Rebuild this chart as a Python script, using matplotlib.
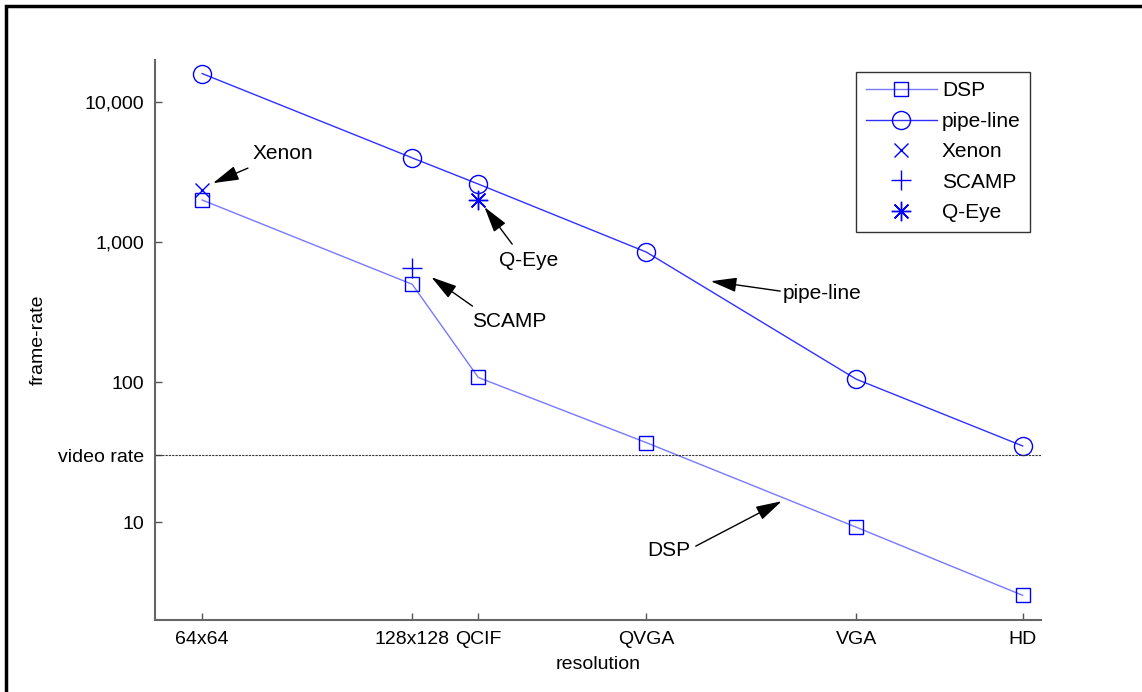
import numpy as np
import matplotlib.pyplot as plt
from matplotlib.patches import Rectangle

plt.rcParams['font.family'] = ['Liberation Sans', 'DejaVu Sans']

# resolutions and their pixel counts (x axis is log of pixel count)
res_labels = ['64x64', '128x128', 'QCIF', 'QVGA', 'VGA', 'HD']
res_pixels = [64 * 64, 128 * 128, 176 * 144, 320 * 240, 640 * 480, 1280 * 720]

# frame rates
pipeline_fps = [16000, 4000, 2600, 850, 105, 35]
dsp_fps = [2000, 500, 108, 37, 9.2, 3.0]
xenon = (64 * 64, 2350)
scamp = (128 * 128, 650)
qeye = (176 * 144, 2000)
video_rate = 30

ytick_vals = [10, video_rate, 100, 1000, 10000]
ytick_labels = ['10', 'video rate', '100', '1,000', '10,000']

fig = plt.figure(figsize=(11.42, 6.92), dpi=100)
ax = fig.add_axes([155 / 1142, 72 / 692, 886 / 1142, 560 / 692])

blue = '#0000ff'
ax.plot(res_pixels, dsp_fps, '-', color='#7878ff', lw=1.0, marker='s', ms=9.5,
        mfc='none', mec=blue, mew=1.0, label='DSP')
ax.plot(res_pixels, pipeline_fps, '-', color='#3030ff', lw=1.0, marker='o', ms=13,
        mfc='none', mec=blue, mew=1.0, label='pipe-line')
ax.plot(*xenon, linestyle='none', marker='x', ms=10, color=blue, mew=1.0, label='Xenon')
ax.plot(*scamp, linestyle='none', marker='+', ms=15, color=blue, mew=1.0, label='SCAMP')
ax.plot(*qeye, linestyle='none', marker=(8, 2, 0), ms=14, color=blue, mew=1.0, label='Q-Eye')

ax.axhline(video_rate, color='#333333', lw=0.8, linestyle=(0, (2, 1)))

ax.set_xscale('log')
ax.set_yscale('log')
ax.set_xlim(3000, 1.04e6)
ax.set_ylim(2, 20000)

ax.set_xticks(res_pixels)
ax.set_xticklabels(res_labels)
ax.set_yticks(ytick_vals)
ax.set_yticklabels(ytick_labels)
ax.minorticks_off()
ax.tick_params(direction='in', length=5, width=1, color='#555555',
               labelsize=14, pad=8)

for s in ['top', 'right']:
    ax.spines[s].set_visible(False)
for s in ['left', 'bottom']:
    ax.spines[s].set_color('#666666')
    ax.spines[s].set_linewidth(1.5)

ax.set_xlabel('resolution', fontsize=14, labelpad=6)
ax.set_ylabel('frame-rate', fontsize=14, labelpad=8)

# annotations
arrow = dict(arrowstyle='-|>,head_length=1.0,head_width=0.28', color='black',
             lw=1.0, mutation_scale=16, shrinkA=0, shrinkB=0)
notes = [
    # text, text pos, ha, arrow tail, arrow tip
    ('Xenon', (5700, 4320), 'left', (5540, 3380), (4400, 2640)),
    ('Q-Eye', (29100, 744), 'left', (31700, 968), (26400, 1780)),
    ('SCAMP', (24400, 273), 'left', (24400, 349), (18600, 562)),
    ('pipe-line', (189000, 432), 'left', (186000, 447), (117600, 526)),
    ('DSP', (103000, 6.3), 'right', (106500, 6.74), (187700, 14.1)),
]
for txt, tpos, ha, tail, tip in notes:
    ax.annotate('', xy=tip, xytext=tail, arrowprops=arrow)
    ax.text(*tpos, txt, fontsize=15, ha=ha, va='center')

leg = ax.legend(loc='upper right', fontsize=15, frameon=True,
                fancybox=False, edgecolor='black', handlelength=3.4,
                labelspacing=0.55, borderpad=0.45, handletextpad=0.25,
                borderaxespad=0)
leg.get_frame().set_linewidth(1.0)
leg.set_bbox_to_anchor((1 - 11 / 886, 1 - 12 / 560), transform=ax.transAxes)

# outer border of the figure
fig.patches.append(Rectangle((6 / 1142, -0.1), 1.2, (686 / 692) + 0.1,
                             transform=fig.transFigure, fill=False,
                             edgecolor='black', lw=2.5))

fig.savefig('out.png', dpi=100)
